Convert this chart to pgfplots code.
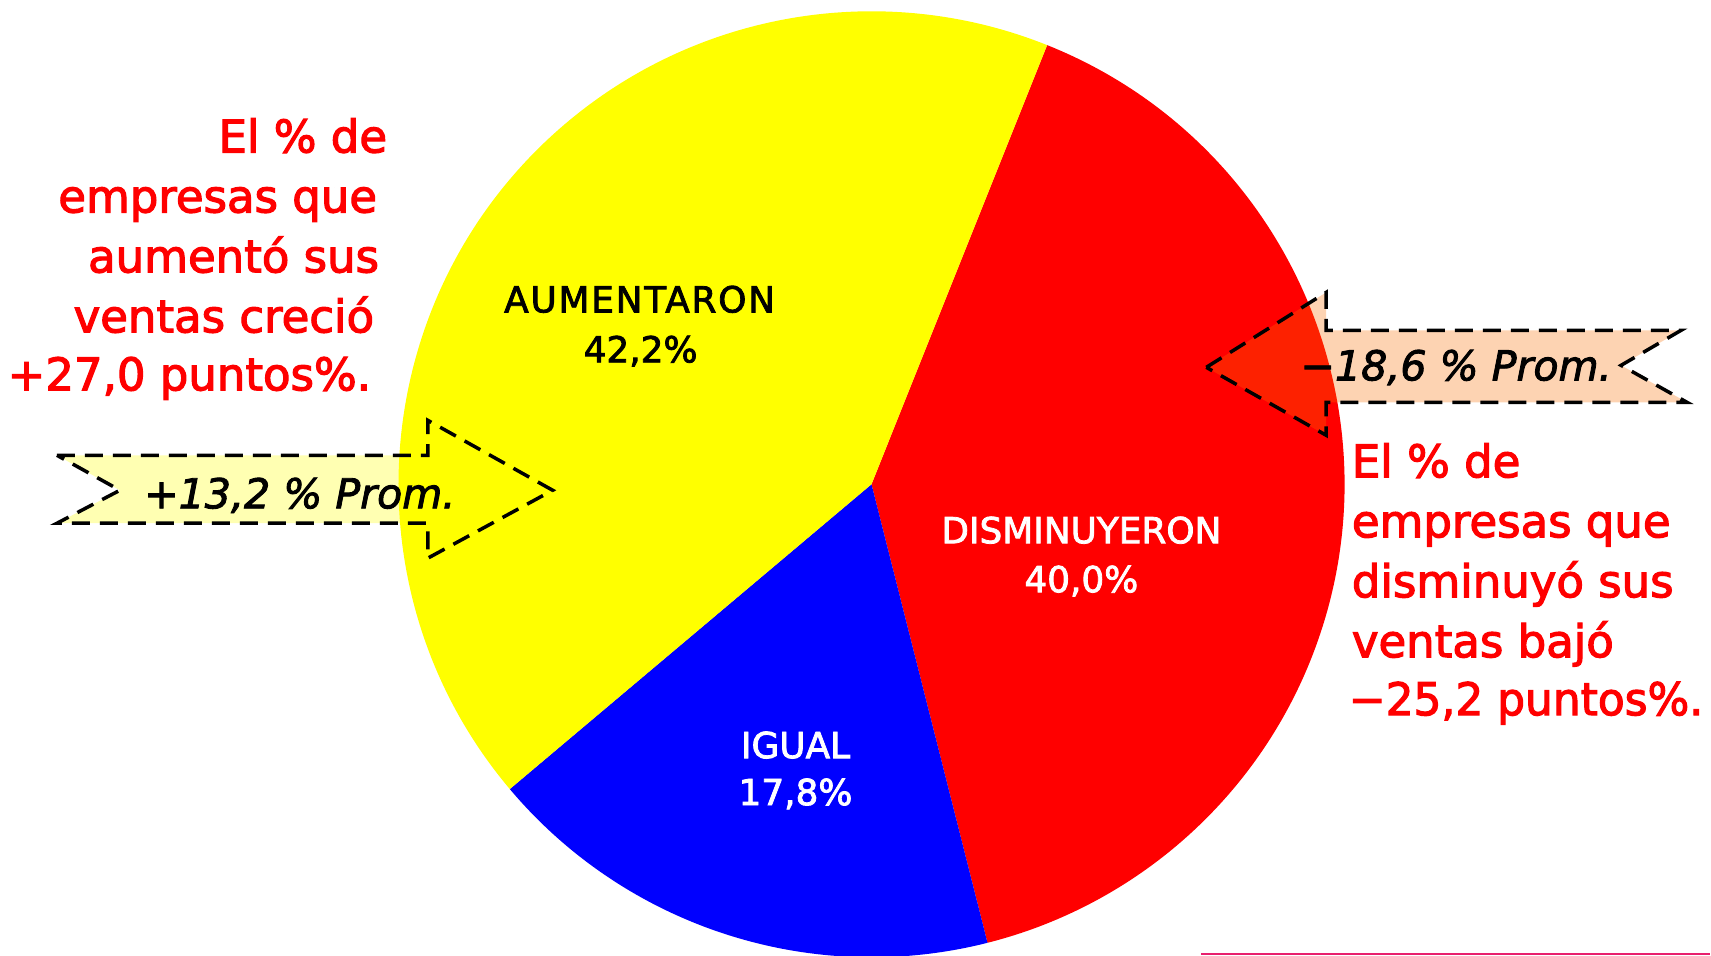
\documentclass[border=0pt]{standalone}
\usepackage{pgfplots}
\pgfplotsset{compat=1.18}
\usepackage{pgfplotstable}
\usepackage{graphicx}
\usepackage{fontspec}
\setmainfont{DejaVu Sans}

\definecolor{pinkline}{RGB}{232,32,110}
\definecolor{promorange}{RGB}{250,110,0}
\definecolor{pieyellow}{RGB}{255,255,0}
\definecolor{piered}{RGB}{255,0,0}
\definecolor{pieblue}{RGB}{0,0,255}

% shares of firms (%), clockwise from the top right
\pgfplotstableread{
label value
DISMINUYERON 40.0
IGUAL 17.8
AUMENTARON 42.2
}\piedata

\newcommand\redfont{\fontsize{12.8}{15}\selectfont\addfontfeatures{FakeBold=2.6}}
\newcommand\lblfont{\fontsize{10.2}{12}\selectfont\addfontfeatures{FakeBold=2.2}}
\newcommand\promfont{\fontsize{11.7}{14}\selectfont\itshape\addfontfeatures{FakeBold=2.2}}

\begin{document}
\begin{tikzpicture}
\pgfplotstablegetelem{0}{value}\of\piedata \let\vA\pgfplotsretval
\pgfplotstablegetelem{1}{value}\of\piedata \let\vB\pgfplotsretval
\pgfplotstablegetelem{2}{value}\of\piedata \let\vC\pgfplotsretval
\pgfmathsetmacro\aA{68.2}
\pgfmathsetmacro\aB{\aA-3.6*\vA}
\pgfmathsetmacro\aC{\aB-3.6*\vB}
\pgfmathsetmacro\aD{\aC-3.6*\vC}
\begin{axis}[
    x=0.01cm, y=0.01cm,
    xmin=0, xmax=1711, ymin=0, ymax=956,
    y dir=reverse,
    hide axis, clip=false,
]
% pie slices
\fill[piered] (axis cs:872,484) -- ++(\aA:4.73cm) arc[start angle=\aA, end angle=\aB, radius=4.73cm] -- cycle;
\fill[pieblue] (axis cs:872,484) -- ++(\aB:4.73cm) arc[start angle=\aB, end angle=\aC, radius=4.73cm] -- cycle;
\fill[pieyellow] (axis cs:872,484) -- ++(\aC:4.73cm) arc[start angle=\aC, end angle=\aD, radius=4.73cm] -- cycle;

% slice labels
\node[anchor=base, font=\lblfont, inner sep=0] at (640,312) {\addfontfeatures{LetterSpace=5}AUMENTARON};
\node[anchor=base, font=\lblfont, inner sep=0] at (641,362) {42,2\%};
\node[anchor=base, font=\lblfont, text=white, inner sep=0] at (1082,543) {DISMINUYERON};
\node[anchor=base, font=\lblfont, text=white, inner sep=0] at (1082,592) {40,0\%};
\node[anchor=base, font=\lblfont, text=white, inner sep=0] at (796,758) {IGUAL};
\node[anchor=base, font=\lblfont, text=white, inner sep=0] at (796,805) {17,8\%};

% average arrows
\filldraw[fill=pieyellow, fill opacity=0.3, draw=black, line width=0.035cm, dash pattern=on 0.18cm off 0.1cm]
    (57,455) -- (428,455) -- (428,420) -- (553,490) -- (428,558) -- (428,523) -- (57,523) -- (120,490) -- cycle;
\filldraw[fill=promorange, fill opacity=0.3, draw=black, line width=0.035cm, dash pattern=on 0.18cm off 0.1cm]
    (1207,367) -- (1327,292) -- (1327,330) -- (1682,330) -- (1622,365) -- (1688,402) -- (1327,402) -- (1327,435) -- cycle;
\node[anchor=base, font=\promfont, inner sep=0] at (300,508) {+13,2 \% Prom.};
\node[anchor=base, font=\promfont, inner sep=0] at (1457,380) {−18,6 \% Prom.};

% comments in red
\node[anchor=base east, font=\redfont, text=piered, inner sep=0] at (388,152) {El \% de};
\node[anchor=base east, font=\redfont, text=piered, inner sep=0] at (378,212) {empresas que};
\node[anchor=base east, font=\redfont, text=piered, inner sep=0] at (380,272) {aumentó sus};
\node[anchor=base east, font=\redfont, text=piered, inner sep=0] at (375,332) {ventas creció};
\node[anchor=base east, font=\redfont, text=piered, inner sep=0] at (372,390) {+27,0 puntos\%.};

\node[anchor=base west, font=\redfont, text=piered, inner sep=0] at (1352,477) {El \% de};
\node[anchor=base west, font=\redfont, text=piered, inner sep=0] at (1352,537) {empresas que};
\node[anchor=base west, font=\redfont, text=piered, inner sep=0] at (1352,597) {disminuyó sus};
\node[anchor=base west, font=\redfont, text=piered, inner sep=0] at (1352,657) {ventas bajó};
\node[anchor=base west, font=\redfont, text=piered, inner sep=0] at (1349,715) {\scalebox{0.975}[1]{−25,2 puntos\%.}};

\draw[pinkline, line width=0.02cm] (1202,954) -- (1711,954);
\end{axis}
\pgfresetboundingbox
\path[use as bounding box] (0,0) rectangle (17.11cm,9.56cm);
\end{tikzpicture}
\end{document}
